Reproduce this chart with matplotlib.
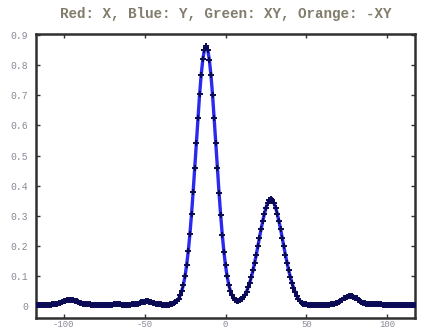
import numpy as np
import matplotlib
matplotlib.use("Agg")
import matplotlib.pyplot as plt

# --- DATA ---
title = "Red: X, Blue: Y, Green: XY, Orange: -XY"
x_start, x_stop = -117, 117
y_vals = [
    0.003, 0.003, 0.003, 0.003, 0.003, 0.004, 0.004, 0.004, 0.004, 0.004,
    0.005, 0.005, 0.006, 0.008, 0.009, 0.011, 0.013, 0.015, 0.017, 0.019,
    0.020, 0.020, 0.020, 0.019, 0.017, 0.015, 0.013, 0.011, 0.010, 0.008,
    0.007, 0.006, 0.005, 0.005, 0.004, 0.004, 0.004, 0.004, 0.003, 0.003,
    0.003, 0.003, 0.003, 0.003, 0.003, 0.004, 0.004, 0.004, 0.005, 0.005,
    0.005, 0.005, 0.005, 0.004, 0.004, 0.004, 0.004, 0.004, 0.004, 0.005,
    0.005, 0.006, 0.007, 0.008, 0.010, 0.012, 0.013, 0.014, 0.015, 0.015,
    0.014, 0.013, 0.011, 0.009, 0.008, 0.006, 0.005, 0.005, 0.004, 0.004,
    0.004, 0.004, 0.004, 0.006, 0.007, 0.009, 0.012, 0.017, 0.024, 0.035,
    0.050, 0.071, 0.099, 0.136, 0.182, 0.238, 0.304, 0.378, 0.459, 0.542,
    0.625, 0.703, 0.769, 0.820, 0.852, 0.863, 0.852, 0.819, 0.768, 0.702,
    0.624, 0.541, 0.458, 0.377, 0.303, 0.237, 0.181, 0.135, 0.098, 0.071,
    0.050, 0.036, 0.026, 0.020, 0.017, 0.017, 0.019, 0.022, 0.029, 0.037,
    0.048, 0.062, 0.078, 0.097, 0.119, 0.144, 0.170, 0.199, 0.227, 0.256,
    0.282, 0.306, 0.326, 0.341, 0.351, 0.354, 0.351, 0.341, 0.326, 0.306,
    0.282, 0.256, 0.227, 0.199, 0.170, 0.144, 0.119, 0.097, 0.078, 0.061,
    0.046, 0.034, 0.023, 0.016, 0.011, 0.008, 0.006, 0.005, 0.004, 0.003,
    0.003, 0.003, 0.003, 0.003, 0.003, 0.003, 0.003, 0.003, 0.003, 0.003,
    0.003, 0.004, 0.005, 0.006, 0.007, 0.009, 0.011, 0.014, 0.018, 0.021,
    0.025, 0.028, 0.031, 0.032, 0.033, 0.032, 0.031, 0.028, 0.025, 0.021,
    0.018, 0.014, 0.011, 0.009, 0.007, 0.006, 0.005, 0.005, 0.005, 0.005,
    0.005, 0.005, 0.005, 0.005, 0.004, 0.004, 0.004, 0.004, 0.004, 0.004,
    0.003, 0.003, 0.003, 0.003, 0.003, 0.003, 0.002, 0.002, 0.002, 0.002,
    0.002, 0.002, 0.002, 0.002, 0.002,
]
x_vals = np.arange(x_start, x_stop + 1)
assert len(x_vals) == len(y_vals)

x_ticks = [-100, -50, 0, 50, 100]
x_ticklabels = ["-100", "-50", "0", "50", "100"]
y_ticks = [0, 0.1, 0.2, 0.3, 0.4, 0.5, 0.6, 0.7, 0.8, 0.9]
y_ticklabels = ["0", "0.1", "0.2", "0.3", "0.4", "0.5", "0.6", "0.7", "0.8", "0.9"]

# --- PLOT ---
fig = plt.figure(figsize=(4.4, 3.33), dpi=100)
ax = fig.add_axes([0.082, 0.045, 0.861, 0.854])

ax.plot(x_vals, y_vals, color="#2a2aee", linewidth=2.4,
        marker="+", markersize=4.5, markeredgewidth=1.4,
        markeredgecolor="#0a0a55", zorder=3)

ax.set_xlim(-117, 117)
ax.set_ylim(-0.04, 0.905)
ax.set_xticks(x_ticks)
ax.set_xticklabels(x_ticklabels)
ax.set_yticks(y_ticks)
ax.set_yticklabels(y_ticklabels)

lab_color = "#8a8a98"
ax.tick_params(axis="both", direction="in", length=3, width=1.0,
               color="#333333", labelsize=7, labelcolor=lab_color,
               top=True, right=True)
ax.tick_params(axis="y", pad=5.5)
ax.tick_params(axis="x", labelsize=6.5, pad=1.5)
for lab in ax.get_xticklabels() + ax.get_yticklabels():
    lab.set_family("Liberation Mono")

for sp in ax.spines.values():
    sp.set_linewidth(1.8)
    sp.set_color("#303030")

ax.set_title(title, fontsize=10.3, family="Liberation Mono", weight="bold",
             color="#827c6c", pad=11)

fig.savefig("out.png", dpi=100)
